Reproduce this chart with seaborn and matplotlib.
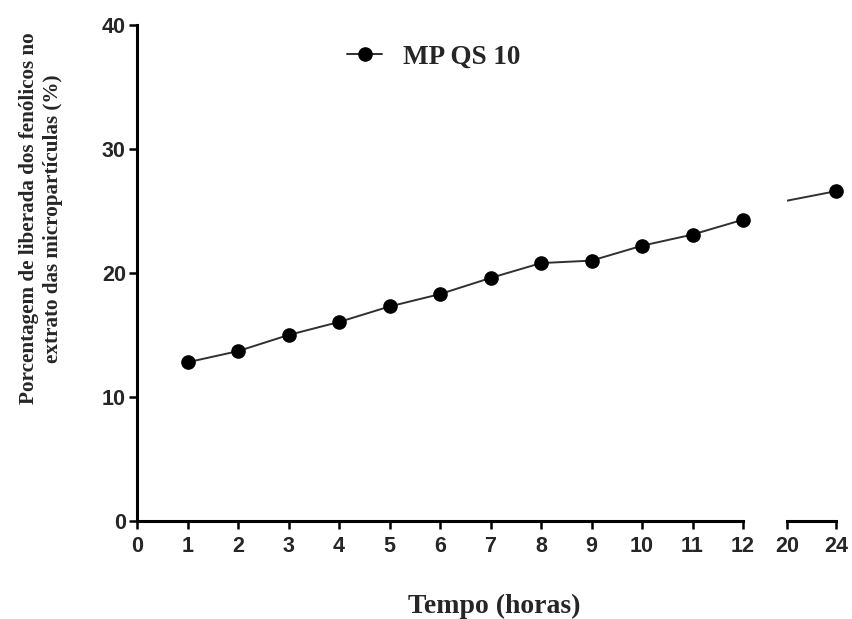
import matplotlib
matplotlib.use("Agg")
import matplotlib.pyplot as plt
from matplotlib.lines import Line2D
import seaborn as sns
import pandas as pd

# Release profile of phenolics from the microparticles
horas = [1, 2, 3, 4, 5, 6, 7, 8, 9, 10, 11, 12, 24]
liberacao = [12.8, 13.7, 15.0, 16.05, 17.3, 18.3, 19.6, 20.8, 21.0, 22.2, 23.1, 24.3, 26.6]
serie = "MP QS 10"

ticks_a = list(range(0, 13))
ticks_b = [20, 24]
yticks = [0, 10, 20, 30, 40]

df = pd.DataFrame({"hora": horas, "liberacao": liberacao})

sns.set_theme(style="white")
plt.rcParams["font.family"] = ["Liberation Sans", "DejaVu Sans"]

fig = plt.figure(figsize=(8.52, 6.19), dpi=100)
ax = fig.add_axes([0.1608, 0.1583, 0.7113, 0.8013])
ax2 = fig.add_axes([0.9237, 0.1583, 0.0575, 0.8013])

LINE_COLOR = "#303030"
MARKER_SIZE = 9.5


def draw_segment(a, lo, hi):
    # connecting line is clipped to the axes, markers are drawn whole
    sns.lineplot(data=df, x="hora", y="liberacao", ax=a, color=LINE_COLOR,
                 linewidth=1.4)
    part = df[(df["hora"] >= lo) & (df["hora"] <= hi)]
    a.plot(part["hora"], part["liberacao"], linestyle="none", marker="o",
           markersize=MARKER_SIZE, markerfacecolor="black",
           markeredgecolor="black", clip_on=False, zorder=5)


for a, (lo, hi) in ((ax, (0, 12)), (ax2, (20, 24))):
    draw_segment(a, lo, hi)
    a.set_ylim(0, 40)
    a.set_xlabel("")
    a.set_ylabel("")
    for s in ("top", "right"):
        a.spines[s].set_visible(False)
    a.spines["bottom"].set_linewidth(2.2)
    a.spines["bottom"].set_color("black")
    a.tick_params(axis="x", which="major", direction="out", length=6, width=1.8,
                  color="black", labelsize=15.5, pad=5, bottom=True)
    a.tick_params(axis="x", which="minor", direction="inout", length=14,
                  width=1.8, color="black", bottom=True)
    a.patch.set_alpha(0)

ax.set_xlim(0, 12)
ax.set_xticks(ticks_a)
ax.set_xticks([12], minor=True)
ax.set_yticks(yticks)
ax.spines["left"].set_linewidth(2.2)
ax.spines["left"].set_color("black")
ax.tick_params(axis="y", direction="out", length=6, width=1.8, color="black",
               labelsize=15.5, pad=2, left=True)
for lab in ax.get_xticklabels() + ax.get_yticklabels():
    lab.set_fontweight("bold")

ax2.set_xlim(20, 24)
ax2.set_xticks(ticks_b)
ax2.set_xticks([20], minor=True)
ax2.spines["left"].set_visible(False)
ax2.set_yticks([])
for lab in ax2.get_xticklabels():
    lab.set_fontweight("bold")

serif = ["Liberation Serif", "DejaVu Serif"]
fig.text(0.58, 0.021, "Tempo (horas)", ha="center", va="center",
         fontsize=20, fontweight="bold", family=serif)
fig.text(0.048, 0.647, "Porcentagem de liberada dos fenólicos no\nextrato das micropartículas (%)",
         rotation=90, ha="center", va="center", fontsize=15.2, fontweight="bold",
         family=serif, linespacing=1.3, multialignment="center")

handle = Line2D([], [], color=LINE_COLOR, linewidth=1.4, marker="o",
                markersize=MARKER_SIZE, markerfacecolor="black",
                markeredgecolor="black")
ax.legend([handle], [serie], loc="center left", bbox_to_anchor=(0.3465, 0.9355),
          frameon=False, handlelength=1.3, handletextpad=0.78, borderpad=0,
          borderaxespad=0,
          prop={"family": serif, "weight": "bold", "size": 19.5})

fig.savefig("out.png", dpi=100)
